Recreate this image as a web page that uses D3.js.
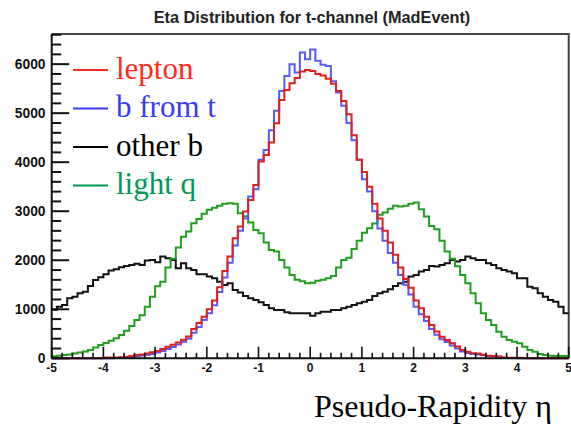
<!DOCTYPE html>
<html>
<head>
<meta charset="utf-8">
<script src="https://cdn.jsdelivr.net/npm/d3@7"></script>
<style>
  html, body { margin: 0; padding: 0; background: #fff; }
  svg { display: block; }
</style>
</head>
<body>
<svg id="chart" width="571" height="426"></svg>
<script>
// ---------------- data ----------------
const title = "Eta Distribution for t-channel (MadEvent)";
const xTitle = "Pseudo-Rapidity \u03b7";
const binLowEdge = -5;
const binWidth = 0.1;
const xTickLabels = [-5, -4, -3, -2, -1, 0, 1, 2, 3, 4, 5];
const yTickLabels = [0, 1000, 2000, 3000, 4000, 5000, 6000];
const seriesNames = ["lepton", "b from t", "other b", "light q"];

const lepton = [
  0,0,0,0,0,0,0,0,0,0,
  15,15,18,20,30,45,65,80,100,125,
  150,190,235,275,320,380,445,600,720,850,
  1000,1180,1450,1780,2074,2448,2686,2992,3230,3536,
  4012,4148,4400,4794,5270,5474,5610,5720,5850,5880,
  5860,5800,5770,5700,5600,5450,5250,4980,4550,4050,
  3800,3500,3150,2850,2600,2360,2110,1850,1620,1440,
  1180,1020,850,680,545,440,375,305,240,170,
  135,105,100,70,50,45,35,15,12,10,
  10,5,0,0,0,0,0,0,0,0
];
const bFromT = [
  0,0,0,0,0,0,0,0,0,0,
  0,0,5,10,15,25,40,55,70,90,
  120,150,190,230,280,340,400,520,640,780,
  920,1080,1350,1650,1950,2300,2600,2850,3300,3450,
  4050,4250,4650,5050,5450,5760,6000,5830,6240,6100,
  6300,6070,5990,5960,5650,5420,5150,4800,4450,4050,
  3650,3400,3000,2650,2400,2150,1950,1700,1500,1300,
  1050,900,760,600,480,390,330,260,200,140,
  110,90,80,60,45,35,30,12,8,5,
  0,0,0,0,0,0,0,0,0,0
];
const otherB = [
  990,1053,1088,1224,1258,1326,1360,1476,1598,1652,
  1714,1790,1816,1857,1884,1905,1930,1905,1993,2006,
  1959,2074,2040,2006,1837,1939,1837,1802,1714,1714,
  1666,1632,1564,1496,1530,1394,1340,1272,1224,1190,
  1143,1088,1020,986,986,940,918,918,918,918,
  870,918,952,952,986,986,1020,1054,1088,1122,
  1156,1190,1272,1326,1360,1408,1476,1530,1560,1666,
  1700,1768,1802,1884,1870,1905,1939,2006,1973,2006,
  2074,2040,2006,2006,1939,1905,1837,1802,1768,1734,
  1632,1632,1462,1428,1326,1258,1190,1156,1054,918
];
const lightQ = [
  40,50,65,80,100,120,140,170,220,270,
  310,360,410,475,560,660,780,880,1054,1258,
  1470,1560,1850,2030,2260,2480,2584,2754,2840,2950,
  3030,3070,3110,3150,3162,3150,2958,2900,2770,2618,
  2550,2360,2210,2176,2006,1850,1700,1600,1570,1530,
  1540,1580,1600,1632,1680,1850,2006,2050,2230,2400,
  2560,2652,2750,2930,2975,3050,3110,3094,3110,3150,
  3176,3040,2890,2700,2630,2400,2180,2030,1880,1700,
  1530,1326,1122,918,782,680,544,442,374,340,
  306,238,170,136,88,68,50,48,45,45
];

// ---------------- layout ----------------
const svg = d3.select("#chart");
const x = d3.scaleLinear().domain([-5, 5]).range([51.7, 568.7]);
const y = d3.scaleLinear().domain([0, 6615]).range([358.3, 34]);

const series = [
  { name: seriesNames[2], values: otherB, color: "#111111" },
  { name: seriesNames[3], values: lightQ, color: "#1f9e1f" },
  { name: seriesNames[1], values: bFromT, color: "#5a5af5" },
  { name: seriesNames[0], values: lepton, color: "#dd2020" }
];

// title
svg.append("text")
  .attr("x", 312).attr("y", 23)
  .attr("text-anchor", "middle")
  .attr("font-family", "Liberation Sans, Arial, sans-serif")
  .attr("font-weight", "bold")
  .attr("font-size", 16.3)
  .attr("fill", "#222")
  .text(title);

// frame (top and right)
svg.append("path")
  .attr("d", `M${x(-5)},${y(6615)} H${x(5)} V${y(0)}`)
  .attr("fill", "none").attr("stroke", "#444").attr("stroke-width", 2);

// histograms
const line = d3.line().x(d => x(d[0])).y(d => y(d[1])).curve(d3.curveStepAfter);
series.forEach(s => {
  const pts = s.values.map((v, i) => [binLowEdge + i * binWidth, v]);
  pts.push([binLowEdge + s.values.length * binWidth, s.values[s.values.length - 1]]);
  svg.append("path")
    .attr("d", line(pts))
    .attr("fill", "none")
    .attr("stroke", s.color)
    .attr("stroke-width", 2)
    .attr("stroke-linejoin", "miter");
});

// y axis
const yAxisG = svg.append("g");
yAxisG.append("line")
  .attr("x1", x(-5)).attr("x2", x(-5))
  .attr("y1", y(0)).attr("y2", y(6615))
  .attr("stroke", "#111").attr("stroke-width", 2);
const yMinor = d3.range(0, 6615, 200);
yAxisG.selectAll("line.tk").data(yMinor).join("line")
  .attr("class", "tk")
  .attr("x1", x(-5))
  .attr("x2", d => x(-5) + (d % 1000 === 0 ? 17.5 : 9.5))
  .attr("y1", d => y(d)).attr("y2", d => y(d))
  .attr("stroke", "#111").attr("stroke-width", 2);
yAxisG.selectAll("text").data(yTickLabels).join("text")
  .attr("x", 45.5).attr("y", d => y(d) + 5)
  .attr("text-anchor", "end")
  .attr("font-family", "Liberation Sans, Arial, sans-serif")
  .attr("font-weight", "bold")
  .attr("font-size", 13.8)
  .attr("fill", "#111")
  .text(d => d);

// x axis
const xAxisG = svg.append("g");
xAxisG.append("line")
  .attr("x1", x(-5)).attr("x2", x(5))
  .attr("y1", y(0)).attr("y2", y(0))
  .attr("stroke", "#111").attr("stroke-width", 2);
const xMinor = d3.range(0, 51).map(i => -5 + i * 0.2);
xAxisG.selectAll("line.tk").data(xMinor).join("line")
  .attr("class", "tk")
  .attr("x1", d => x(d)).attr("x2", d => x(d))
  .attr("y1", y(0))
  .attr("y2", (d, i) => y(0) - (i % 5 === 0 ? 11.5 : 5.5))
  .attr("stroke", "#111").attr("stroke-width", 1.6);
xAxisG.selectAll("text").data(xTickLabels).join("text")
  .attr("x", d => x(d)).attr("y", 372)
  .attr("text-anchor", "middle")
  .attr("font-family", "Liberation Sans, Arial, sans-serif")
  .attr("font-weight", "bold")
  .attr("font-size", 12)
  .attr("fill", "#111")
  .text(d => d);

// x title
svg.append("text")
  .attr("x", 314).attr("y", 417)
  .attr("font-family", "Liberation Serif, Times New Roman, serif")
  .attr("font-size", 32)
  .attr("fill", "#000")
  .text(xTitle);

// legend
const legendRows = [
  { name: seriesNames[0], line: "#ff3020", text: "#ff2a1a" },
  { name: seriesNames[1], line: "#3a3af0", text: "#3a3af0" },
  { name: seriesNames[2], line: "#000000", text: "#000000" },
  { name: seriesNames[3], line: "#00995a", text: "#009955" }
];
const lg = svg.append("g");
legendRows.forEach((r, i) => {
  const ly = 70 + i * 38.5;
  lg.append("line")
    .attr("x1", 73).attr("x2", 108)
    .attr("y1", ly).attr("y2", ly)
    .attr("stroke", r.line).attr("stroke-width", 2);
  lg.append("text")
    .attr("x", 116).attr("y", ly + 8.5)
    .attr("font-family", "Liberation Serif, Times New Roman, serif")
    .attr("font-size", 31)
    .attr("fill", r.text)
    .text(r.name);
});
</script>
</body>
</html>
